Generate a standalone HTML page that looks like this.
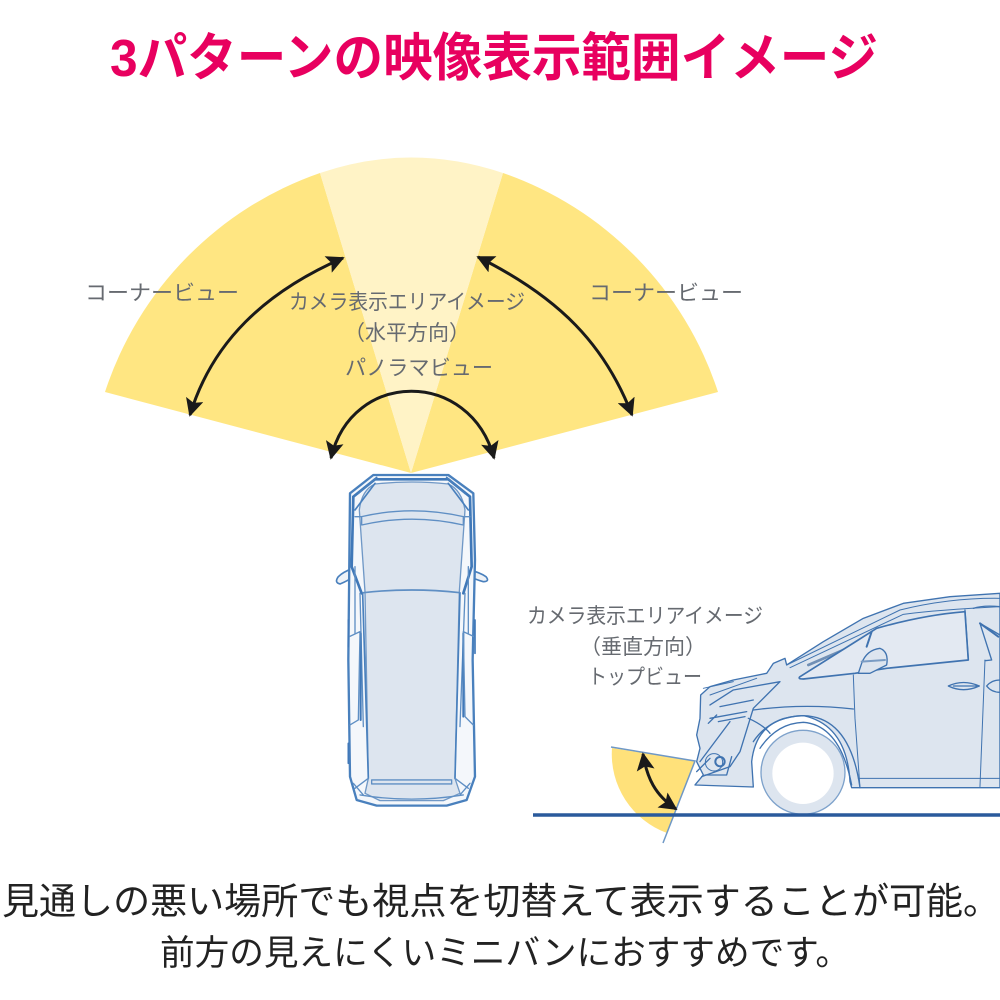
<!DOCTYPE html>
<html><head><meta charset="utf-8"><style>
html,body{margin:0;padding:0;background:#fff;width:1000px;height:1000px;overflow:hidden}
svg{display:block}
text{font-family:"Liberation Sans","Noto Sans CJK JP",sans-serif}
.l{font-size:21px;fill:#666a70;text-anchor:middle}
</style></head><body>
<svg width="1000" height="1000" viewBox="0 0 1000 1000" xmlns="http://www.w3.org/2000/svg">
<defs>
<marker id="a" viewBox="0 0 10 10" refX="9" refY="5" markerWidth="6" markerHeight="6" orient="auto-start-reverse"><path d="M0 0L10 5L0 10L2 5Z" fill="#1a1a1a"/></marker>
<filter id="b" x="-5%" y="-5%" width="110%" height="110%"><feGaussianBlur stdDeviation="0.45"/></filter>
</defs>
<rect width="1000" height="1000" fill="#fff"/>
<text x="110" y="76" font-size="52" font-weight="700" fill="#e8005f" textLength="768" lengthAdjust="spacingAndGlyphs">3パターンの映像表示範囲イメージ</text>

<path d="M411 473L105 392A345 345 0 0 1 320 173Z" fill="#ffe682"/>
<path d="M411 473L718 392A345 345 0 0 0 503 173Z" fill="#ffe682"/>
<path d="M411 473L320 173Q411 142 503 173Z" fill="#fff3c6"/>

<path d="M343 258C265 292 212 342 190 415" fill="none" stroke="#1a1a1a" stroke-width="3" marker-start="url(#a)" marker-end="url(#a)"/>
<path d="M478 257C560 298 605 345 632 415" fill="none" stroke="#1a1a1a" stroke-width="3" marker-start="url(#a)" marker-end="url(#a)"/>
<path d="M331 458C352 369 470 369 494 458" fill="none" stroke="#1a1a1a" stroke-width="3" marker-start="url(#a)" marker-end="url(#a)"/>

<text x="162" y="300" class="l" textLength="154" lengthAdjust="spacingAndGlyphs">コーナービュー</text>
<text x="666" y="300" class="l" textLength="154" lengthAdjust="spacingAndGlyphs">コーナービュー</text>
<text x="407" y="309" class="l" textLength="236" lengthAdjust="spacingAndGlyphs">カメラ表示エリアイメージ</text>
<text x="407" y="340" class="l">（水平方向）</text>
<text x="419" y="375" class="l" textLength="148" lengthAdjust="spacingAndGlyphs">パノラマビュー</text>

<text x="645" y="623" class="l" textLength="236" lengthAdjust="spacingAndGlyphs">カメラ表示エリアイメージ</text>
<text x="643" y="654" class="l">（垂直方向）</text>
<text x="645" y="684" class="l" textLength="114" lengthAdjust="spacingAndGlyphs">トップビュー</text>

<!-- top view car -->
<g transform="translate(320 460) scale(.3333)" fill="none" stroke="#5f8fc4" stroke-width="4" stroke-linejoin="round" stroke-linecap="round" filter="url(#b)">
<path d="M100 325Q70 335 55 350Q42 368 60 372Q85 362 100 350Z" fill="#eef2f7" stroke="#4a80bd" stroke-width="5"/>
<path d="M450 330Q480 338 498 350Q510 365 490 365Q465 358 452 350Z" fill="#eef2f7" stroke="#4a80bd" stroke-width="5"/>
<path d="M90 100L160 45H385L460 100L465 300L458 600L465 950L440 1020L380 1037H170L110 1020L90 950L85 600Z" fill="#f4f7fb" stroke="#4a80bd" stroke-width="7"/>
<path d="M118 150Q125 90 165 72Q275 60 385 72Q425 90 435 150L418 395L405 955L420 1000L370 1022H180L135 1000L145 955L135 395Z" fill="#dde5ef" stroke="#6f98c6"/>
<path d="M100 110L165 58H385L450 110L455 320L430 400M100 110L95 320L125 400" stroke="#3f78b8" stroke-width="8"/>
<path d="M105 150L165 70M445 150L385 70M115 100L170 52M435 100L380 52" stroke="#4a80bd" stroke-width="5"/>
<path d="M125 170Q275 135 430 170M125 195Q275 160 430 195M125 170V195M430 170V195M105 170H125M430 170H450"/>
<path d="M130 398Q275 382 420 398" stroke-width="5"/>
<path d="M105 320V520M120 400L130 800M445 320V520M435 400L420 800"/>
<path d="M128 400L145 955M420 400L405 955" stroke="#4a80bd" stroke-width="5"/>
<path d="M122 520V780M430 520V770" stroke="#3f78b8" stroke-width="6"/>
<path d="M88 530L120 515L115 780L90 795M462 530L430 515L435 770L460 795"/>
<path d="M155 960H395V972H155Z" stroke-width="4"/>
<path d="M105 985L145 955M445 985L405 955M120 1005Q275 1030 430 1005M100 970L130 1005M450 970L420 1005"/>
<path d="M85 480V560M465 480V580M85 850V910" stroke="#3f78b8" stroke-width="5"/>
</g>

<!-- side car -->
<g transform="translate(690 585) scale(.3333)" fill="none" stroke="#3f73b0" stroke-width="4" stroke-linejoin="round" stroke-linecap="round" filter="url(#b)">
<path d="M15 600L40 570L20 530L30 490L20 450L30 400L32 330L60 305L130 285L230 265L250 235L285 220L290 240L400 170L520 100L640 55L780 35L930 25V608H485L480 590Q470 420 340 392Q200 395 185 530L190 606Z" fill="#dde5ef"/>
<circle cx="339" cy="562" r="126" fill="#dde5ef" stroke="#7ea2cb"/>
<circle cx="339" cy="565" r="92" fill="#fff" stroke="none"/>
<path d="M290 240L630 75Q780 38 930 40M300 248L640 88Q740 75 930 65" stroke-width="3"/>
<path d="M355 240L530 165" stroke="#6f8fb5" stroke-width="8"/>
<path d="M330 275L500 168L560 130Q700 90 825 80L835 225L590 250L495 265L340 282Q322 282 330 275Z" fill="#e3e9f2" stroke-width="5"/>
<path d="M530 185L545 140"  stroke-width="6"/>
<path d="M515 235Q530 195 570 190Q597 200 590 240L540 265H505Z" fill="#dde5ef"/>
<path d="M515 230L585 225" stroke="#7a9cc4" stroke-width="6"/>
<path d="M850 70Q880 60 930 65M870 115L905 225L885 227M825 75L835 225M870 115L930 150" />
<path d="M870 115L925 155" stroke-width="6"/>
<path d="M885 225L870 605M490 270L495 400L510 608" stroke-width="3"/>
<path d="M505 580H930" stroke-width="3"/>
<path d="M775 303Q820 282 868 303Q820 325 775 303ZM890 303Q905 285 930 285M890 303Q905 322 930 322M790 303H860"/>
<path d="M60 360L130 315L270 290L190 370L150 500L120 545L35 575M60 400L170 380M90 365L190 345M85 410L165 395M55 415L80 390"/>
<path d="M40 310L130 290M60 330L200 280"  stroke-width="3"/>
<path d="M190 375Q340 355 490 372M175 400Q220 420 240 445M30 530L120 410"/>
<path d="M190 470Q240 395 340 392Q480 395 510 608" stroke-width="4"/>
<path d="M210 490Q260 415 340 412Q450 420 485 600" stroke-width="4"/>
<circle cx="90" cy="530" r="14" stroke-width="6"/><circle cx="72" cy="532" r="26" stroke-width="3"/>
<path d="M20 560L60 520M45 570H110L125 515" />
</g>

<!-- side wedge -->
<path d="M612 748L695 761L667 833A84 84 0 0 1 612 748Z" fill="#ffe17a"/>
<path d="M611 747L695 761L663 843" fill="none" stroke="#6f98c6" stroke-width="1.5"/>
<line x1="533" y1="815" x2="1000" y2="815" stroke="#2a5a9c" stroke-width="3.5"/>
<path d="M643 754C647 778 655 795 676 809" fill="none" stroke="#1a1a1a" stroke-width="3" marker-start="url(#a)" marker-end="url(#a)"/>

<text x="2" y="914" font-size="37" fill="#222" textLength="998" lengthAdjust="spacingAndGlyphs">見通しの悪い場所でも視点を切替えて表示することが可能。</text>
<text x="160" y="965" font-size="35" fill="#222" textLength="690" lengthAdjust="spacingAndGlyphs">前方の見えにくいミニバンにおすすめです。</text>
</svg>
</body></html>
